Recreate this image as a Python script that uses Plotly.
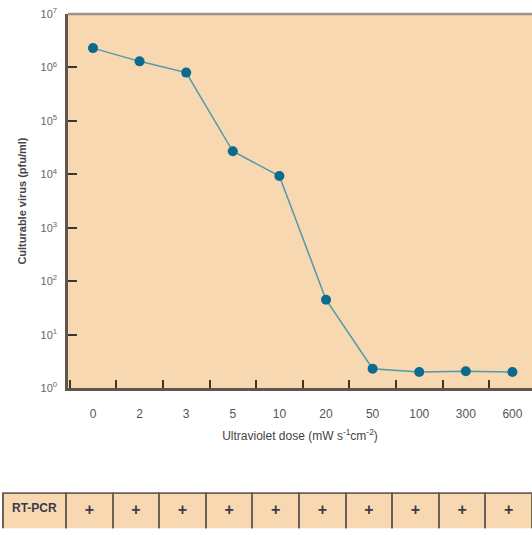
import plotly.graph_objects as go

doses = ["0", "2", "3", "5", "10", "20", "50", "100", "300", "600"]
virus = [2.3e6, 1.3e6, 8.0e5, 2.7e4, 9.3e3, 45, 2.3, 2.0, 2.07, 2.0]
ytick_vals = [1, 10, 100, 1e3, 1e4, 1e5, 1e6, 1e7]
ytick_text = ["10<sup>%d</sup>" % i for i in range(8)]
table_header = ["RT-PCR"] + ["+"] * 10

PEACH = "#f8d8b1"
AXIS = "#5f5850"

fig = go.Figure()
fig.add_trace(go.Scatter(
    x=doses, y=virus, mode="lines+markers",
    line=dict(color="#4e9aab", width=1.5),
    marker=dict(color="#0b6a8e", size=10),
    showlegend=False, cliponaxis=False,
))
fig.add_trace(go.Table(
    domain=dict(x=[0, 1], y=[0, 0.0693]),
    columnwidth=[63] + [46.6] * 10,
    header=dict(
        values=["<b>%s</b>" % v for v in table_header],
        fill_color=PEACH,
        line=dict(color="#6b6157", width=2),
        font=dict(family="Liberation Sans, Arial", size=[12] + [16] * 10, color="#3a3a4a"),
        align="center", height=40,
    ),
    cells=dict(values=[[] for _ in table_header], height=1,
               fill_color="white", line=dict(width=0)),
))

fig.update_layout(
    width=532, height=535,
    margin=dict(l=3, r=0, t=14, b=2),
    paper_bgcolor="white", plot_bgcolor=PEACH,
    font=dict(family="Liberation Sans, Arial", color="#555"),
    xaxis=dict(
        domain=[0.1229, 1], type="category", range=[-0.536, 9.42],
        showline=True, linecolor=AXIS, linewidth=2.5,
        ticks="inside", ticklen=8, tickwidth=1.5, tickcolor="#3c3630",
        tickson="boundaries", showgrid=False, zeroline=False,
        tickfont=dict(size=12, color="#555"),
        ticklabelstandoff=13,
        title=dict(text="Ultraviolet dose (mW s<sup>-1</sup>cm<sup>-2</sup>)",
                   font=dict(size=12, color="#444"), standoff=12),
    ),
    yaxis=dict(
        domain=[0.2736, 1], type="log", range=[0, 7],
        showline=True, linecolor=AXIS, linewidth=2.5,
        ticks="inside", ticklen=9, tickwidth=1.5, tickcolor="#3c3630",
        tickvals=ytick_vals, ticktext=ytick_text,
        showgrid=False, zeroline=False,
        tickfont=dict(size=11, color="#666"),
        ticklabelstandoff=6,
        title=dict(text="<b>Culturable virus (pfu/ml)</b>",
                   font=dict(size=11, color="#444"), standoff=12),
    ),
    shapes=[dict(type="line", xref="x domain", yref="y domain",
                 x0=0, x1=1, y0=1, y1=1,
                 line=dict(color="#9a948e", width=2.5))],
)

fig.write_html("out.html", config={"displayModeBar": False},
               post_script="document.body.style.margin='0';document.body.style.overflow='hidden';")
